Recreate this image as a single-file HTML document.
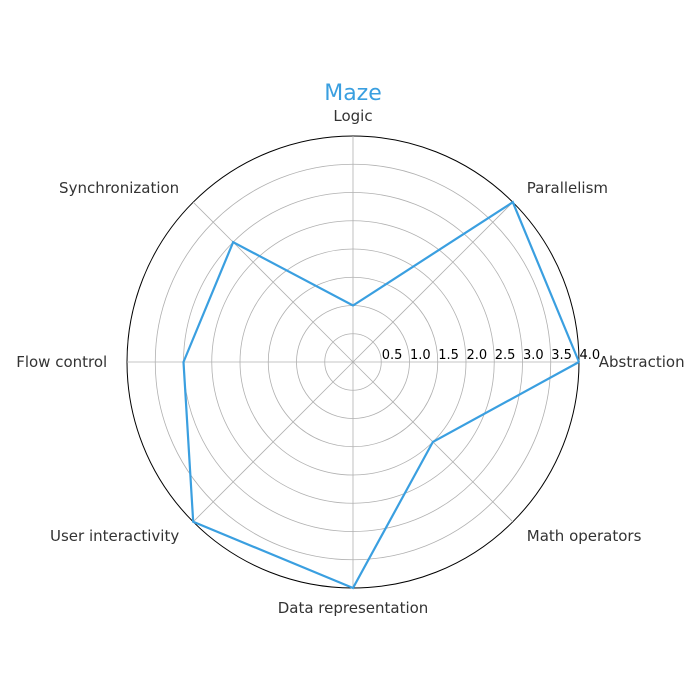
<!DOCTYPE html>
<html><head><meta charset="utf-8"><style>
body{margin:0;background:#fff;}
svg{display:block;font-family:"DejaVu Sans","Liberation Sans",sans-serif;}
</style></head><body>
<svg id="chart" width="700" height="700" viewBox="0 0 700 700">
<text x="353" y="100" text-anchor="middle" font-size="22" fill="#3a9fe0">Maze</text>
<g id="grid"></g>
<g id="labels"></g>
<g id="ticks"></g>
<g id="series"></g>
</svg>
<script>
const categories = ["Abstraction","Parallelism","Logic","Synchronization","Flow control","User interactivity","Data representation","Math operators"];
const values = [4.0, 4.0, 1.0, 3.0, 3.0, 4.0, 4.0, 2.0];
const tickValues = [0.5,1.0,1.5,2.0,2.5,3.0,3.5,4.0];
const tickLabels = ["0.5","1.0","1.5","2.0","2.5","3.0","3.5","4.0"];
const maxVal = 4.0;

const NS = "http://www.w3.org/2000/svg";
const cx = 353, cy = 362, R = 226;
function rScale(v){ return v / maxVal * R; }
function ang(i){ return i * 2 * Math.PI / categories.length; }
function pt(i, v){ const a = ang(i), r = rScale(v); return [cx + r*Math.cos(a), cy - r*Math.sin(a)]; }
function mk(tag, attrs, parent){ const e = document.createElementNS(NS, tag); for (const k in attrs) e.setAttribute(k, attrs[k]); parent.appendChild(e); return e; }

const grid = document.getElementById('grid');
tickValues.forEach((t, i) => {
  const last = i === tickValues.length - 1;
  const c = mk('circle', {cx: cx, cy: cy, r: rScale(t), fill: 'none', stroke: last ? '#000' : '#b0b0b0', 'stroke-width': last ? 1 : 0.8}, grid);
  
  
});
categories.forEach((c, i) => {
  const [x, y] = pt(i, maxVal);
  const l = mk('line', {x1: cx, y1: cy, x2: x, y2: y, stroke: '#b0b0b0', 'stroke-width': 0.8}, grid);
  
  
});

const labels = document.getElementById('labels');
categories.forEach((c, i) => {
  const a = ang(i);
  const [x, y] = pt(i, maxVal + 0.35);
  const cos = Math.cos(a);
  let anchor = Math.abs(cos) < 0.1 ? 'middle' : (cos > 0 ? 'start' : 'end');
  const t = mk('text', {x: x, y: y + 5, 'text-anchor': anchor, 'font-size': 15, fill: '#333'}, labels);
  t.textContent = c;
  
  
});

const ticks = document.getElementById('ticks');
tickValues.forEach((t, i) => {
  const e = mk('text', {x: cx + rScale(t) + 0.5, y: cy - 3, 'text-anchor': 'start', 'font-size': 13, fill: '#000'}, ticks);
  e.textContent = tickLabels[i];
  
  
});

const series = document.getElementById('series');
const pts = values.map((v, i) => pt(i, v));
pts.push(pts[0]);
const poly = mk('polyline', {points: pts.map(p => p.join(',')).join(' '), fill: 'none', stroke: '#3a9fe0', 'stroke-width': 2.2, 'stroke-linejoin': 'miter'}, series);


</script>
</body></html>
